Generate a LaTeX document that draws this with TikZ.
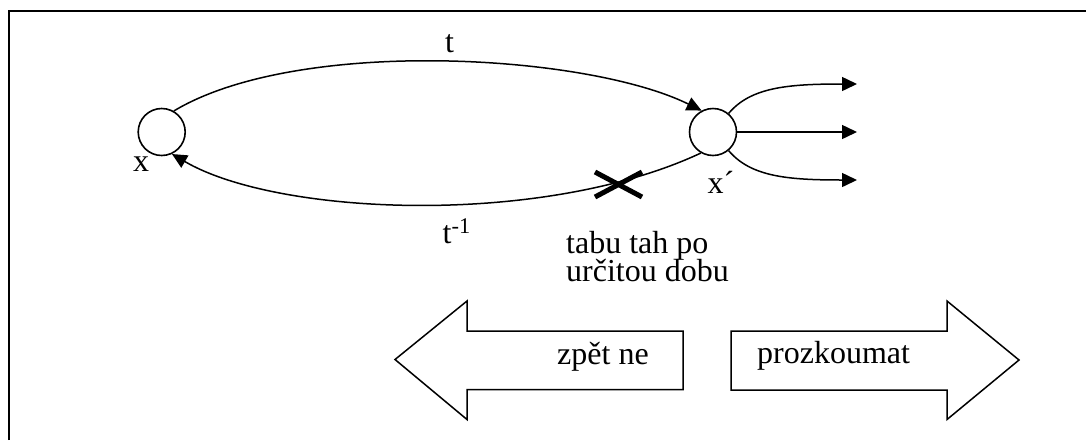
\documentclass[tikz,border=0pt]{standalone}
\usepackage{fontspec}
\setmainfont{Liberation Serif}
\usetikzlibrary{arrows.meta}
\begin{document}
\begin{tikzpicture}[x=1pt,y=-1pt,
  state/.style={circle,draw,line width=1.6pt,minimum size=47pt,inner sep=0pt},
  link/.style={line width=1.5pt,-{Triangle[length=15pt,width=14pt]}},
  lbl/.style={font=\fontsize{32}{36}\selectfont,inner sep=0pt},
  caption/.style={font=\fontsize{32}{28}\selectfont,inner sep=0pt,anchor=base west},
  blockarrow/.style={draw,line width=1.5pt,line join=miter},
  frameline/.style={line width=2pt},
  taboo/.style={line width=5pt}]
\useasboundingbox (0,0) rectangle (1086,440);

% frame
\draw[frameline] (9,440) -- (9,11) -- (1086,11);

% states
\node[state] (L) at (161.7,132) {};
\node[state] (R) at (713,132) {};

% move t and its reverse
\draw[link] (L.60) .. controls +(123,-74) and +(-116,-57) .. (R.118);
\draw[link] (R.240) .. controls +(-158,74) and +(106,62) .. (L.295);

% onward moves from x'
\coordinate (up) at (857,84);
\coordinate (mid) at (857,132);
\coordinate (dn) at (857,180);
\draw[link] (R.50) .. controls +(22,-26) and +(-70,0) .. (up);
\draw[link] (R.east) -- (mid);
\draw[link] (R.-50) .. controls +(22,26) and +(-70,0) .. (dn);

% forbidden reverse move
\coordinate (stop) at (618.5,184.5);
\draw[taboo] (stop) +(-23.5,-12.5) -- +(23.5,12.5);
\draw[taboo] (stop) +(-23.5,12.5) -- +(23.5,-12.5);

% labels
\node[lbl,anchor=base] (tlab) at (449.5,52) {t};
\node[lbl,anchor=base west] (tinv) at (442.5,243) {t\textsuperscript{-1}};
\node[lbl,anchor=base] (xlab) at (141,171) {x};
\node[lbl,anchor=base west] (xplab) at (707.5,193) {x´};

\node[caption] (tabu1) at (566,253) {tabu tah po};
\node[caption] (tabu2) at (566,281) {určitou dobu};

% block arrows
\draw[blockarrow] (395,359.5) -- (467,301) -- (467,331) -- (683,331) -- (683,389.5)
  -- (467,389.5) -- (467,419.5) -- cycle;
\draw[blockarrow] (731,331) -- (947,331) -- (947,301) -- (1019,360) -- (947,419.5)
  -- (947,390) -- (731,390) -- cycle;
\node[caption] (back) at (557,364) {zpět ne};
\node[caption] (explore) at (757,363) {prozkoumat};
\end{tikzpicture}
\end{document}
